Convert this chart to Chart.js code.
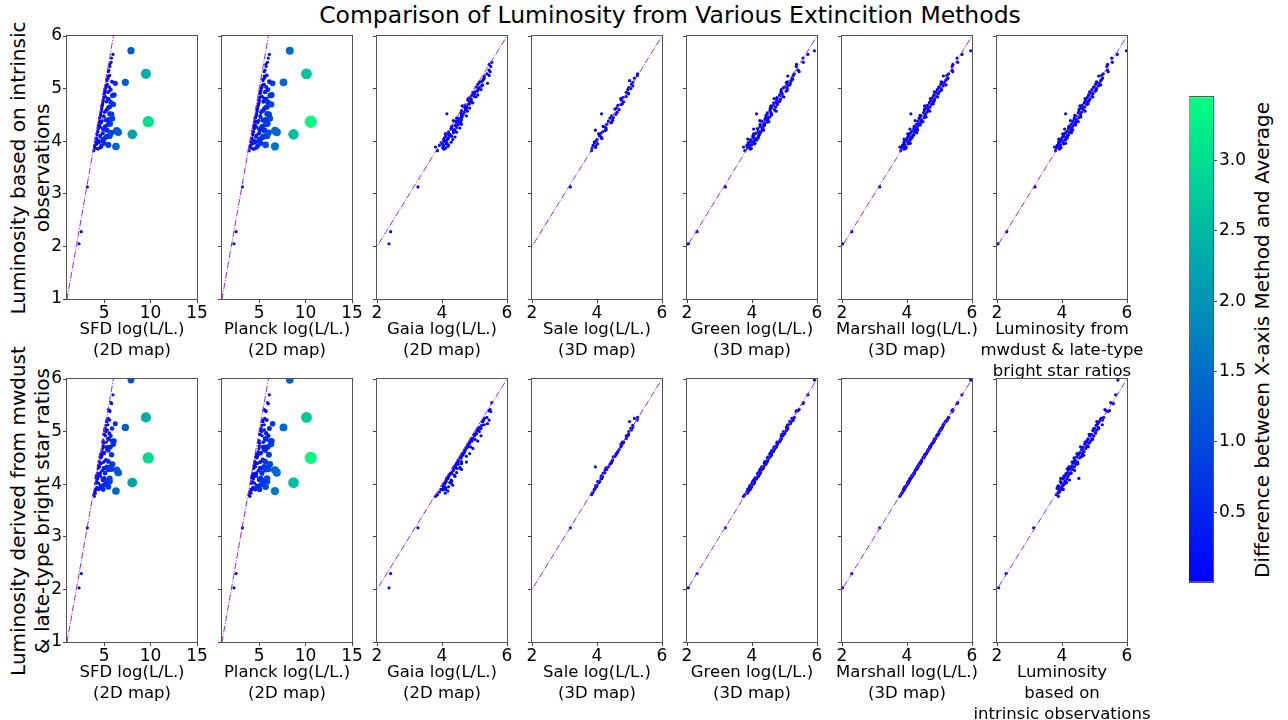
<!DOCTYPE html>
<html>
<head>
<meta charset="utf-8">
<script src="https://cdn.jsdelivr.net/npm/chart.js@4.4.1/dist/chart.umd.min.js"></script>
<style>
  body { margin: 0; background: #fff; }
  #fig { position: relative; width: 1288px; height: 720px; overflow: hidden; font-family: "DejaVu Sans", sans-serif; color: #000; }
  canvas { position: absolute; }
  .txt { position: absolute; white-space: nowrap; text-align: center; }
  .xlab { font-size: 16.5px; line-height: 21px; transform: translateX(-50%); }
  .ylab { font-size: 20px; line-height: 24px; transform: translate(-50%, -50%) rotate(-90deg); }
</style>
</head>
<body>
<div id="fig">
  <div class="txt" style="left:670px; top:15px; font-size:23.5px; transform:translate(-50%,-50%)">Comparison of Luminosity from Various Extincition Methods</div>
  <div class="txt ylab" style="left:30px; top:167.5px">Luminosity based on intrinsic<br>observations</div>
  <div class="txt ylab" style="left:30px; top:510.5px">Luminosity derived from mwdust<br>&amp; late-type bright star ratios</div>
  <div class="txt ylab" style="left:1262px; top:339.5px">Difference between X-axis Method and Average</div>
</div>
<script>
// one entry per star, same order in every array (null = star not in that map)
const intrinsic = [2.05, 2.28, 3.13,
  3.82, 3.85, 3.87, 3.88, 3.90, 3.92, 3.93, 3.95, 3.97, 3.98,
  4.00, 4.02, 4.03, 4.05, 4.07, 4.08, 4.10, 4.12, 4.13, 4.15,
  4.17, 4.18, 4.20, 4.21, 4.24, 4.25, 4.27, 4.30, 4.32, 4.35,
  4.37, 4.38, 4.40, 4.43, 4.45, 4.48, 4.50, 4.52, 4.55, 4.58,
  4.60, 4.63, 4.65, 4.68, 4.70, 4.73, 4.75, 4.78, 4.80, 4.83,
  4.85, 4.88, 4.90, 4.93, 4.95, 4.98, 5.00, 5.03, 5.05, 5.08,
  5.10, 5.12, 5.15, 5.20, 5.25, 5.28, 5.35, 5.42, 5.50, 5.58,
  5.65, 5.72,
  3.86, 3.89, 3.91, 3.94, 3.96, 3.99, 4.01, 4.04, 4.06, 4.09, 4.11, 4.14,
  4.16, 4.19, 4.22, 4.23, 4.26, 4.28, 4.31, 4.33, 4.36, 4.39, 4.41, 4.44,
  4.46, 4.49, 4.51, 4.54, 4.57, 4.61, 4.64, 4.67, 4.71, 4.74, 4.77, 4.81,
  4.84, 4.87, 4.91, 4.94, 4.97, 5.02, 5.07, 5.13, 5.18, 5.24, 5.32, 5.46];
const mwdust = [2.03, 2.30, 3.17,
  3.80, 3.92, 3.83, 3.97, 3.87, 3.85, 3.95, 4.05, 3.90, 4.02,
  3.95, 4.10, 3.98, 4.12, 4.00, 4.15, 4.05, 4.20, 4.03, 4.10,
  4.22, 4.14, 4.27, 4.33, 4.20, 4.30, 4.22, 4.35, 4.28, 4.40,
  4.50, 4.33, 4.46, 4.38, 4.52, 4.42, 4.57, 4.11, 4.60, 4.52,
  4.66, 4.58, 4.70, 4.62, 4.76, 4.68, 4.80, 4.73, 4.86, 4.78,
  4.92, 4.82, 4.95, 4.87, 5.02, 4.92, 5.06, 4.97, 5.12, 5.03,
  5.15, 5.08, 5.19, 5.25, 5.22, 5.27, 5.40, 5.38, 5.55, 5.53,
  5.70, 5.98,
  3.94, 3.77, 3.94, 3.89, 4.11, 3.90, 4.02, 3.90, 4.16, 4.06, 4.17, 4.03,
  4.29, 4.17, 4.31, 4.08, 4.30, 4.21, 4.42, 4.32, 4.43, 4.26, 4.43, 4.38,
  4.58, 4.39, 4.56, 4.50, 4.71, 4.53, 4.64, 4.55, 4.80, 4.71, 4.83, 4.71,
  4.95, 4.82, 4.94, 4.85, 5.05, 5.00, 5.19, 5.06, 5.22, 5.13, 5.42, 5.40];
const marshall = [2.02, 2.30, 3.16,
  3.81, 3.91, 3.84, 3.98, 3.88, 3.86, 3.94, 4.04, 3.91, 4.03,
  3.96, 4.09, 3.99, 4.11, 4.01, 4.16, 4.06, 4.21, 4.04, 4.09,
  4.23, 4.15, 4.26, 4.32, 4.21, 4.31, 4.23, 4.34, 4.29, 4.41,
  4.49, 4.34, 4.45, 4.39, 4.53, 4.43, 4.56, 4.12, 4.61, 4.53,
  4.65, 4.59, 4.71, 4.63, 4.75, 4.69, 4.81, 4.74, 4.85, 4.79,
  4.91, 4.83, 4.96, 4.88, 5.01, 4.93, 5.05, 4.98, 5.11, 5.04,
  5.14, 5.09, 5.18, 5.26, 5.23, 5.28, 5.39, 5.39, 5.56, 5.54,
  5.69, 5.96,
  3.95, 3.78, 3.93, 3.90, 4.10, 3.91, 4.03, 3.91, 4.15, 4.07, 4.18, 4.02,
  4.30, 4.16, 4.32, 4.09, 4.29, 4.22, 4.41, 4.33, 4.44, 4.25, 4.44, 4.37,
  4.59, 4.40, 4.55, 4.51, 4.70, 4.54, 4.65, 4.54, 4.81, 4.70, 4.84, 4.72,
  4.94, 4.83, 4.95, 4.84, 5.06, 4.99, 5.20, 5.05, 5.23, 5.12, 5.41, 5.41];
const green = [2.04, 2.31, 3.18,
  3.78, 3.95, 3.86, 3.93, 3.90, 3.84, 3.99, 4.08, 3.88, 4.00,
  3.97, 4.14, 3.96, 4.10, 4.04, 4.19, 4.03, 4.22, 4.07, 4.12,
  4.20, 4.18, 4.30, 4.35, 4.17, 4.33, 4.26, 4.37, 4.25, 4.38,
  4.52, 4.30, 4.49, 4.41, 4.50, 4.46, 4.60, 4.14, 4.58, 4.55,
  4.69, 4.56, 4.73, 4.66, 4.78, 4.67, 4.84, 4.76, 4.88, 4.77,
  4.95, 4.86, 4.93, 4.90, 5.05, 4.90, 5.08, 5.01, 5.10, 5.07,
  5.18, 5.06, 5.21, 5.23, 5.27, 5.30, 5.42, 5.36, 5.58, 5.57,
  5.72, 5.92,
  3.98, 3.74, 3.92, 3.93, 4.09, 3.94, 4.06, 3.87, 4.19, 4.03, 4.21, 4.05,
  4.26, 4.20, 4.35, 4.05, 4.33, 4.25, 4.39, 4.35, 4.47, 4.24, 4.40, 4.42,
  4.55, 4.43, 4.60, 4.47, 4.74, 4.57, 4.61, 4.58, 4.77, 4.75, 4.86, 4.68,
  4.98, 4.85, 4.91, 4.89, 5.08, 4.97, 5.16, 5.10, 5.25, 5.10, 5.45, 5.37];
const gaia = [2.37, 2.42, 3.26,
  3.86, 4.05, 4.10, 4.02, 4.18, 3.92, 4.20, 4.12, 3.97, 4.28,
  4.05, 4.15, 4.33, 4.18, 4.08, 4.40, 4.12, 4.25, 4.24, 4.16,
  4.45, 4.20, 4.35, 4.40, 4.28, 4.55, 4.30, 4.40, 4.60, 4.45,
  4.58, 4.42, 4.50, 4.50, 4.58, 4.75, 4.62, 4.15, 4.68, 4.60,
  4.72, 4.85, 4.76, 4.70, 4.80, 4.95, 4.85, 4.80, 4.90, 4.85,
  5.00, 5.10, 5.00, 4.95, 5.08, 5.20, 5.12, 5.05, 5.22, 5.10,
  5.40, 5.15, 5.25, 5.30, 5.45, 5.38, 5.45, 5.50, 5.53, null,
  null, null,
  4.10, 3.80, 4.05, 4.02, 4.15, 4.12, 4.08, 4.05, 4.20, 4.30, 4.22, 4.10,
  4.35, 4.38, 4.36, 4.28, 4.45, 4.30, 4.48, 4.55, 4.50, 4.35, 4.60, 4.45,
  4.62, 4.60, 4.65, 4.58, 4.78, 4.75, 4.70, 4.62, 4.85, 4.88, 4.90, 4.80,
  5.05, 4.92, 4.98, 5.02, 5.10, 5.15, 5.25, 5.20, 5.28, 5.30, 5.48, 5.45];
const sale = [null, null, 3.18,
  3.83, null, 3.85, 3.96, null, 3.88, null, 4.02, 3.92, null,
  3.98, null, 4.00, 4.15, null, 4.13, 4.08, null, 4.06, 4.12,
  null, 4.17, 4.25, 3.95, null, 4.28, 4.24, null, 4.30, 4.43,
  null, 4.35, 4.48, null, 4.50, 4.45, null, 4.14, 4.62, null,
  4.68, 4.60, null, 4.64, 4.74, null, 4.82, 4.75, null, 4.80,
  4.90, null, 4.97, 4.90, null, 4.95, 5.04, null, 5.10, 5.06,
  null, 5.10, 5.00, 5.15, 5.24, 5.25, null, null, null, null,
  null, null,
  null, null, 3.96, null, null, 3.92, null, null, 4.14, null, null, 4.05,
  null, null, 4.28, null, null, 4.19, null, null, 4.45, null, null, 4.40,
  null, null, 4.58, null, null, 4.55, null, null, 4.78, null, null, 4.73,
  null, null, 4.96, null, null, 4.98, null, null, null, null, null, null];
const sfd = [2.30, 2.54, 3.19,
  3.88, 4.35, 4.05, 4.60, 6.27, 3.98, 5.45, 4.20, 4.45, 4.10,
  4.75, 4.30, 4.95, 4.12, 5.15, 4.55, 5.60, 4.25, 8.03, 4.85,
  6.52, 4.32, 6.35, 5.30, 4.40, 5.05, 4.60, 4.38, 5.45, 4.70,
  9.75, 4.52, 5.20, 5.88, 4.55, 4.95, 4.62, 5.60, 5.05, 4.70,
  5.30, 4.75, 5.60, 4.80, 5.98, 4.85, 5.25, 4.90, 5.50, 4.95,
  5.15, 6.06, 4.98, 5.40, 5.05, 5.70, 5.10, 5.55, 5.20, 5.35,
  6.20, 7.28, 5.30, 5.45, 5.60, 9.50, 5.50, 5.62, 5.75, 5.80,
  5.95, 7.89,
  4.22, 3.95, 4.70, 4.15, 5.00, 4.05, 4.40, 4.90, 4.15, 5.30, 4.60, 4.22,
  5.75, 4.30, 4.95, 4.85, 4.35, 5.10, 4.50, 5.65, 4.45, 4.80, 5.45, 4.50,
  5.00, 4.60, 5.80, 4.65, 5.15, 4.72, 5.45, 4.75, 4.85, 5.70, 4.90, 5.35,
  5.00, 5.90, 5.05, 5.50, 5.10, 5.20, 5.25, 5.85, 5.30, 5.40, 5.45, 5.60];
const planck = [2.29, 2.52, 3.20,
  3.92, 4.45, 4.12, 4.72, 6.70, 4.05, 5.70, 4.28, 4.58, 4.16,
  4.90, 4.38, 5.10, 4.18, 5.35, 4.65, 5.85, 4.32, 8.70, 5.00,
  6.90, 4.40, 6.70, 5.55, 4.50, 5.25, 4.72, 4.44, 5.70, 4.85,
  10.55, 4.62, 5.40, 6.15, 4.62, 5.12, 4.70, 5.85, 5.22, 4.80,
  5.50, 4.85, 5.85, 4.90, 6.30, 4.98, 5.45, 5.00, 5.75, 5.05,
  5.32, 6.35, 5.05, 5.62, 5.12, 5.95, 5.20, 5.75, 5.30, 5.55,
  6.45, 7.62, 5.42, 5.60, 5.82, 10.10, 5.62, 5.75, 5.90, 5.98,
  6.10, 8.30,
  4.30, 4.00, 4.85, 4.22, 5.18, 4.10, 4.50, 5.05, 4.22, 5.50, 4.70, 4.30,
  6.00, 4.36, 5.10, 5.00, 4.42, 5.30, 4.58, 5.90, 4.52, 4.95, 5.65, 4.58,
  5.15, 4.70, 6.05, 4.75, 5.32, 4.80, 5.68, 4.85, 4.95, 5.95, 5.00, 5.55,
  5.10, 6.20, 5.15, 5.70, 5.20, 5.30, 5.35, 6.10, 5.40, 5.55, 5.55, 5.72];

const methodNames = [
  ['SFD log(L/L.)', '(2D map)'],
  ['Planck log(L/L.)', '(2D map)'],
  ['Gaia log(L/L.)', '(2D map)'],
  ['Sale log(L/L.)', '(3D map)'],
  ['Green log(L/L.)', '(3D map)'],
  ['Marshall log(L/L.)', '(3D map)'],
];
const methodValues = [sfd, planck, gaia, sale, green, marshall];
const mwdustName = ['Luminosity from', 'mwdust &amp; late-type', 'bright star ratios'];
const intrinsicName = ['Luminosity', 'based on', 'intrinsic observations'];

const wideRange = [1, 15], wideTicks = [5, 10, 15];
const narrowRange = [2, 6], narrowTicks = [2, 4, 6];
const yRange = [1, 6], yTicks = [1, 2, 3, 4, 5, 6];
const diagonal = [0, 16];
const colorMin = 0.005, colorMax = 3.45;
const colorTicks = [0.5, 1.0, 1.5, 2.0, 2.5, 3.0];
const diffScale = 0.56;   // colour value vs distance from the 1:1 line

const fig = document.getElementById('fig');
const family = '"DejaVu Sans", sans-serif';
const tickColor = '#444';
const lineColor = 'rgb(150,40,230)';
const plotTop = [36, 379];
const plotH = 263, plotW = 130;
const colLeft = [67, 222, 377, 532, 687, 842, 997];
const padTop = 12, padRight = 14, axisH = 60;

function winter(d) {
  const t = Math.min(1, Math.max(0, (d - colorMin) / (colorMax - colorMin)));
  return `rgb(0,${Math.round(255 * t)},${Math.round(255 * (1 - 0.5 * t))})`;
}

const frame = {
  id: 'frame',
  afterDraw(chart) {
    const { ctx, chartArea: a } = chart;
    ctx.save();
    ctx.strokeStyle = '#555';
    ctx.lineWidth = 1;
    ctx.strokeRect(Math.round(a.left) - 0.5, Math.round(a.top) - 0.5, Math.round(a.width) + 1, Math.round(a.height) + 1);
    ctx.restore();
  }
};

function fixedTicks(list) {
  return s => { s.ticks = list.map(v => ({ value: v })); };
}

function makePanel(row, col, xs, ys, label) {
  const left = colLeft[col];
  const axisW = col === 0 ? left : 8;
  const cv = document.createElement('canvas');
  cv.width = axisW + plotW + padRight;
  cv.height = padTop + plotH + axisH;
  cv.style.left = (left - axisW) + 'px';
  cv.style.top = (plotTop[row] - padTop) + 'px';
  fig.appendChild(cv);

  const pts = [];
  xs.forEach((x, i) => {
    const y = ys[i];
    if (x == null || y == null) return;
    pts.push({ x, y, d: diffScale * Math.abs(x - y) });
  });

  const wide = col < 2;
  const xr = wide ? wideRange : narrowRange;
  new Chart(cv, {
    type: 'scatter',
    data: {
      datasets: [
        {
          type: 'line',
          data: diagonal.map(v => ({ x: v, y: v })),
          borderColor: lineColor,
          borderWidth: 1,
          borderDash: [6.4, 1.6, 1, 1.6],
          pointRadius: 0,
          fill: false
        },
        {
          data: pts,
          pointRadius: c => c.raw ? Math.max(1.6, 3.3 * Math.sqrt(c.raw.d)) : 2,
          pointBackgroundColor: c => c.raw ? winter(c.raw.d) : 'blue',
          pointBorderWidth: 0
        }
      ]
    },
    options: {
      responsive: false,
      animation: false,
      events: [],
      layout: { padding: { top: padTop, right: padRight, left: 0, bottom: 0 } },
      plugins: { legend: { display: false }, tooltip: { enabled: false } },
      scales: {
        x: {
          type: 'linear', min: xr[0], max: xr[1],
          afterBuildTicks: fixedTicks(wide ? wideTicks : narrowTicks),
          afterFit: s => { s.height = axisH; },
          grid: { drawOnChartArea: false, drawTicks: true, tickLength: 4, color: tickColor },
          border: { display: false },
          ticks: { font: { size: 17, family }, color: '#000', padding: 0, maxRotation: 0, autoSkip: false, callback: v => String(v) }
        },
        y: {
          type: 'linear', min: yRange[0], max: yRange[1],
          afterBuildTicks: fixedTicks(yTicks),
          afterFit: s => { s.width = axisW; },
          grid: { drawOnChartArea: false, drawTicks: true, tickLength: 4, color: tickColor },
          border: { display: false },
          ticks: { display: col === 0, font: { size: 17, family }, color: '#000', padding: 1, autoSkip: false, callback: v => String(v) }
        }
      }
    },
    plugins: [frame]
  });

  const lab = document.createElement('div');
  lab.className = 'txt xlab';
  lab.style.left = (left + plotW / 2) + 'px';
  lab.style.top = (plotTop[row] + plotH + 18.5) + 'px';
  lab.innerHTML = label.join('<br>');
  fig.appendChild(lab);
}

// top row: y = intrinsic, bottom row: y = mwdust
methodValues.forEach((vals, c) => makePanel(0, c, vals, intrinsic, methodNames[c]));
makePanel(0, 6, mwdust, intrinsic, mwdustName);
methodValues.forEach((vals, c) => makePanel(1, c, vals, mwdust, methodNames[c]));
makePanel(1, 6, intrinsic, mwdust, intrinsicName);

// colour bar
const cb = document.createElement('canvas');
cb.width = 24 + 40;
cb.height = 12 + 485 + 12;
cb.style.left = '1189px';
cb.style.top = '85px';
fig.appendChild(cb);
new Chart(cb, {
  type: 'bar',
  data: {
    labels: [''],
    datasets: [{
      data: [[colorMin, colorMax]],
      backgroundColor: c => {
        const a = c.chart.chartArea;
        if (!a) return 'blue';
        const g = c.chart.ctx.createLinearGradient(0, a.bottom, 0, a.top);
        g.addColorStop(0, winter(colorMin));
        g.addColorStop(1, winter(colorMax));
        return g;
      },
      borderWidth: 0,
      barPercentage: 1,
      categoryPercentage: 1
    }]
  },
  options: {
    responsive: false,
    animation: false,
    events: [],
    layout: { padding: { top: 12, bottom: 12, left: 0, right: 0 } },
    plugins: { legend: { display: false }, tooltip: { enabled: false } },
    scales: {
      x: { display: false },
      y: {
        position: 'right', min: colorMin, max: colorMax,
        afterBuildTicks: fixedTicks(colorTicks),
        afterFit: s => { s.width = 40; },
        grid: { drawOnChartArea: false, drawTicks: true, tickLength: 4, color: tickColor },
        border: { display: false },
        ticks: { font: { size: 17, family }, color: '#000', padding: 2, callback: v => v.toFixed(1) }
      }
    }
  },
  plugins: [frame]
});
</script>
</body>
</html>
